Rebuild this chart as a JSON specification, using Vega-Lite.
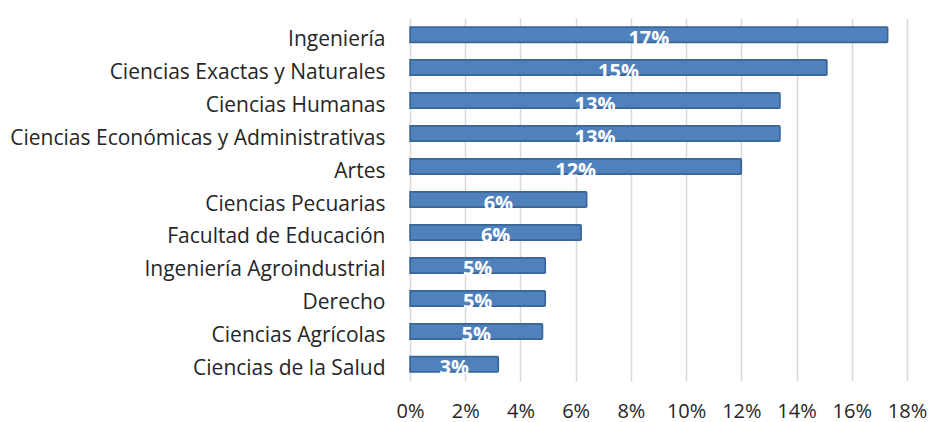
{
  "$schema": "https://vega.github.io/schema/vega-lite/v6.json",
  "width": 497,
  "height": 363,
  "autosize": {"type": "none"},
  "padding": {"left": 410, "top": 18, "right": 33, "bottom": 41},
  "background": "white",
  "config": {"view": {"stroke": null}, "font": "Open Sans"},
  "data": {
    "values": [
      {"facultad": "Ingeniería", "valor": 0.173},
      {"facultad": "Ciencias Exactas y Naturales", "valor": 0.151},
      {"facultad": "Ciencias Humanas", "valor": 0.134},
      {"facultad": "Ciencias Económicas y Administrativas", "valor": 0.134},
      {"facultad": "Artes", "valor": 0.120},
      {"facultad": "Ciencias Pecuarias", "valor": 0.064},
      {"facultad": "Facultad de Educación", "valor": 0.062},
      {"facultad": "Ingeniería Agroindustrial", "valor": 0.049},
      {"facultad": "Derecho", "valor": 0.049},
      {"facultad": "Ciencias Agrícolas", "valor": 0.048},
      {"facultad": "Ciencias de la Salud", "valor": 0.032}
    ]
  },
  "encoding": {
    "y": {
      "field": "facultad",
      "type": "nominal",
      "sort": null,
      "scale": {"paddingInner": 0.53, "paddingOuter": 0.27},
      "axis": {
        "title": null,
        "domain": false,
        "ticks": false,
        "labelFontSize": 21,
        "labelColor": "#262626",
        "labelPadding": 25,
        "labelOffset": 5,
        "labelLimit": 500
      }
    }
  },
  "layer": [
    {
      "mark": {"type": "bar", "color": "#4f81bd", "stroke": "#3a6597", "strokeWidth": 1.5, "cornerRadiusEnd": 1},
      "encoding": {
        "x": {
          "field": "valor",
          "type": "quantitative",
          "scale": {"domain": [0, 0.18], "nice": false},
          "axis": {
            "title": null,
            "format": ".0%",
            "values": [0, 0.02, 0.04, 0.06, 0.08, 0.1, 0.12, 0.14, 0.16, 0.18],
            "domain": false,
            "ticks": false,
            "labelFontSize": 20,
            "labelColor": "#262626",
            "labelPadding": 20,
            "gridColor": "#d9d9d9",
            "gridWidth": 1.5,
            "labelFlush": false
          }
        }
      }
    },
    {
      "transform": [{"calculate": "datum.valor / 2", "as": "centro"}],
      "mark": {"type": "text", "color": "white", "fontWeight": "bold", "fontSize": 20, "align": "center", "baseline": "middle", "dy": 4},
      "encoding": {
        "x": {"field": "centro", "type": "quantitative"},
        "text": {"field": "valor", "type": "quantitative", "format": ".0%"}
      }
    }
  ]
}
